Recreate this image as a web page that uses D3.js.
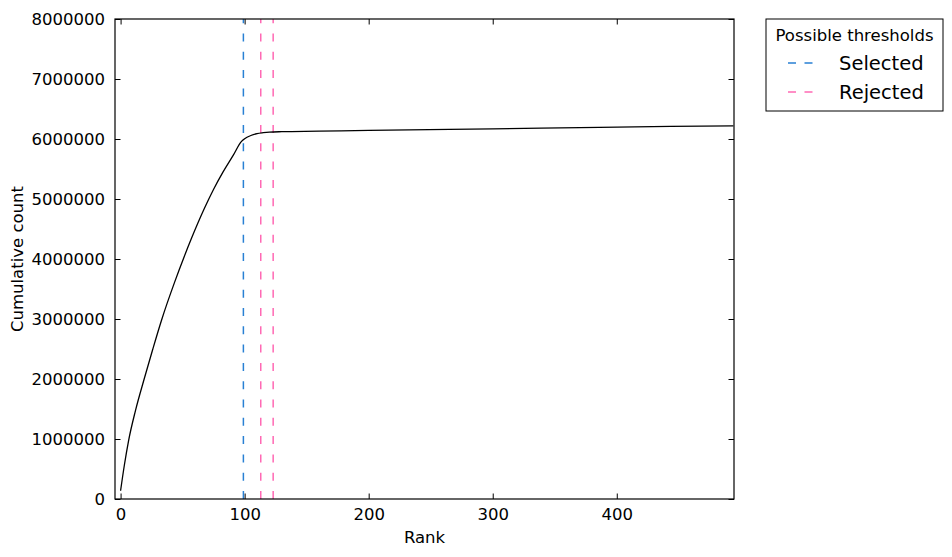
<!DOCTYPE html>
<html>
<head>
<meta charset="utf-8">
<script src="https://cdn.jsdelivr.net/npm/d3@7"></script>
<style>
  body { margin: 0; background: #fff; }
  svg text { font-family: "DejaVu Sans", sans-serif; fill: #000; }
</style>
</head>
<body>
<svg id="chart"></svg>
<script>
const SVG_WIDTH = 952;
const SVG_HEIGHT = 557;
const margin = { top: 19, right: 218, bottom: 58, left: 115 };

// cumulative count, by rank
const ranks = [0, 3, 6.5, 12, 19.3, 26, 33, 43.5, 51.5, 57, 67.6, 75, 82.4, 91, 97.3, 100, 105, 110, 115, 120, 130, 160, 200, 300, 386, 494];
const counts = [138000, 558000, 978000, 1473000, 2020000, 2500000, 2980000, 3610000, 4050000, 4336000, 4845000, 5163000, 5444000, 5736000, 5956000, 6005000, 6058000, 6090000, 6105000, 6115000, 6122000, 6130000, 6145000, 6170000, 6195000, 6220000];

const selectedThresholds = [99];
const rejectedThresholds = [113, 123];

const xTicks = [0, 100, 200, 300, 400];
const yTicks = [0, 1000000, 2000000, 3000000, 4000000, 5000000, 6000000, 7000000, 8000000];

const legendTitle = 'Possible thresholds';
const legendItems = ['Selected', 'Rejected'];

const BLUE = '#2980d4';
const PINK = '#ff69b4';
const TICK = 5.5;

const svg = d3.select('#chart')
  .attr('width', SVG_WIDTH)
  .attr('height', SVG_HEIGHT);

const x0 = margin.left, x1 = SVG_WIDTH - margin.right;
const y0 = SVG_HEIGHT - margin.bottom, y1 = margin.top;

const xScale = d3.scaleLinear().domain([-4.5, 494.5]).range([x0, x1]);
const yScale = d3.scaleLinear().domain([0, 8000000]).range([y0, y1]);

// threshold lines, dashes start at the bottom
const drawThresholds = (values, color) => {
  svg.append('g')
    .selectAll('line')
    .data(values)
    .join('line')
    .attr('x1', d => xScale(d))
    .attr('x2', d => xScale(d))
    .attr('y1', y0)
    .attr('y2', y1)
    .attr('stroke', color)
    .attr('stroke-width', 1.5)
    .attr('stroke-dasharray', '8,10.3');
}
drawThresholds(selectedThresholds, BLUE);
drawThresholds(rejectedThresholds, PINK);

const line = d3.line()
  .x((d, i) => xScale(ranks[i]))
  .y(d => yScale(d))
  .curve(d3.curveMonotoneX);

svg.append('path')
  .datum(counts)
  .attr('fill', 'none')
  .attr('stroke', '#000')
  .attr('stroke-width', 1.3)
  .attr('d', line);

// axes: ticks pointing inwards on all four sides
const xAxisBottom = d3.axisBottom(xScale).tickValues(xTicks).tickSize(-TICK).tickPadding(9);
const xAxisTop = d3.axisTop(xScale).tickValues(xTicks).tickSize(-TICK).tickFormat('');
const yAxisLeft = d3.axisLeft(yScale).tickValues(yTicks).tickSize(-TICK).tickPadding(10).tickFormat(d3.format('d'));
const yAxisRight = d3.axisRight(yScale).tickValues(yTicks).tickSize(-TICK).tickFormat('');

const styleAxis = g => {
  g.select('.domain').remove();
  g.selectAll('line').attr('stroke', '#000');
  g.selectAll('text').attr('font-size', '16.5px').attr('font-family', '"DejaVu Sans", sans-serif');
}

svg.append('g').attr('transform', `translate(0,${y0})`).call(xAxisBottom).call(styleAxis);
svg.append('g').attr('transform', `translate(0,${y1})`).call(xAxisTop).call(styleAxis);
svg.append('g').attr('transform', `translate(${x0},0)`).call(yAxisLeft).call(styleAxis);
svg.append('g').attr('transform', `translate(${x1},0)`).call(yAxisRight).call(styleAxis);

svg.append('rect')
  .attr('x', x0)
  .attr('y', y1)
  .attr('width', x1 - x0)
  .attr('height', y0 - y1)
  .attr('fill', 'none')
  .attr('stroke', '#000')
  .attr('stroke-width', 1.2);

svg.append('text')
  .attr('x', (x0 + x1) / 2)
  .attr('y', 543)
  .attr('text-anchor', 'middle')
  .attr('font-size', '16.5px')
  .text('Rank');

svg.append('text')
  .attr('transform', `translate(23,${(y0 + y1) / 2}) rotate(-90)`)
  .attr('text-anchor', 'middle')
  .attr('font-size', '16.5px')
  .text('Cumulative count');

// legend
const legend = svg.append('g').attr('transform', 'translate(766,19)');

legend.append('rect')
  .attr('width', 177)
  .attr('height', 92)
  .attr('fill', '#fff')
  .attr('stroke', '#000')
  .attr('stroke-width', 1);

legend.append('text')
  .attr('x', 88.5)
  .attr('y', 22)
  .attr('text-anchor', 'middle')
  .attr('font-size', '16.5px')
  .text(legendTitle);

const entries = legend.selectAll('g.entry')
  .data(legendItems)
  .join('g')
  .attr('class', 'entry')
  .attr('transform', (d, i) => `translate(0,${44 + i * 29})`);

entries.append('line')
  .attr('x1', 22)
  .attr('x2', 47)
  .attr('stroke', (d, i) => i === 0 ? BLUE : PINK)
  .attr('stroke-width', 1.5)
  .attr('stroke-dasharray', '8,8.5');

entries.append('text')
  .attr('x', 73)
  .attr('y', 7)
  .attr('font-size', '19.5px')
  .text(d => d);
</script>
</body>
</html>
